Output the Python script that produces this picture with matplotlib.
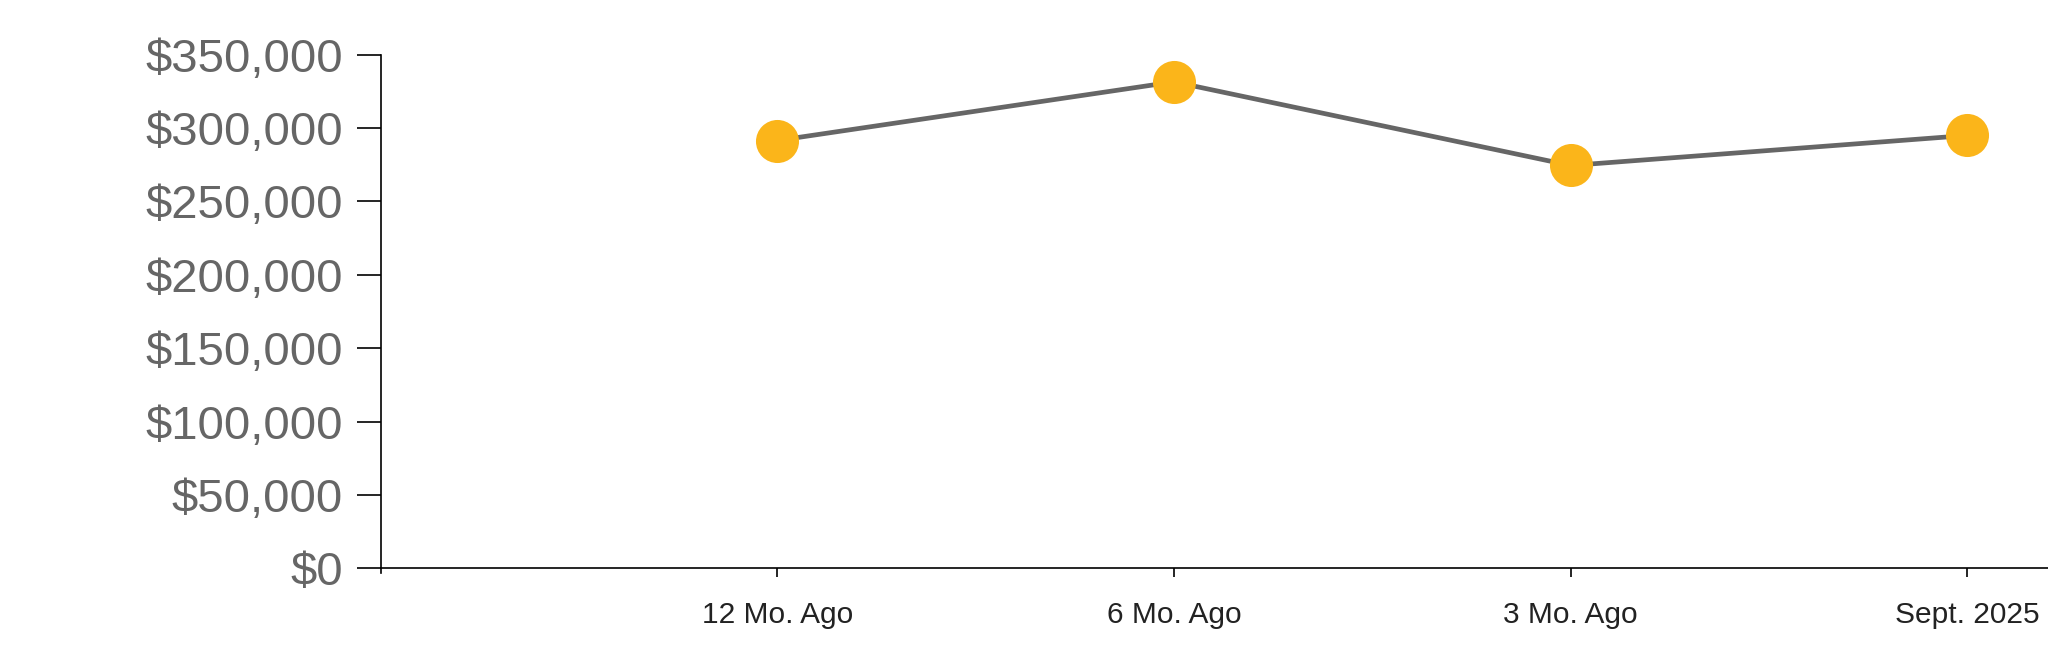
import numpy as np
import matplotlib.pyplot as plt
from matplotlib.ticker import FuncFormatter, MultipleLocator

# Chart data
periods = ["12 Mo. Ago", "6 Mo. Ago", "3 Mo. Ago", "Sept. 2025"]
median_price = [291500, 331500, 274500, 295000]

plt.rcParams["font.family"] = ["Liberation Sans", "DejaVu Sans"]

fig = plt.figure(figsize=(20.48, 6.63), dpi=100)
ax = fig.add_axes([380.5 / 2048, 94.7 / 663, 1 - 380.5 / 2048, (568.3 - 54.7) / 663])

x = np.arange(1, len(periods) + 1)
ax.plot(x, median_price, color="#666666", linewidth=3.4, zorder=2)
ax.plot(x, median_price, linestyle="none", marker="o", markersize=31,
        markerfacecolor="#FBB51A", markeredgewidth=0, zorder=3)

ax.set_xlim(0, 4.203)
ax.set_ylim(0, 350000)
ax.yaxis.set_major_locator(MultipleLocator(50000))
ax.yaxis.set_major_formatter(FuncFormatter(lambda v, p: "${:,.0f}".format(v)))
ax.set_xticks(x)
ax.set_xticklabels(periods)

for side in ("top", "right"):
    ax.spines[side].set_visible(False)
for side in ("left", "bottom"):
    ax.spines[side].set_color("#000000")
    ax.spines[side].set_linewidth(1.2)
ax.spines["left"].set_bounds(-3500, 350000)

ax.tick_params(axis="y", length=17.5, width=1.2, color="#000000", pad=9.5,
               labelsize=34, labelcolor="#666666")
ax.tick_params(axis="x", length=6.5, width=1.2, color="#000000", pad=17,
               labelsize=21.5, labelcolor="#222222")

fig.savefig("out.png", dpi=100)
